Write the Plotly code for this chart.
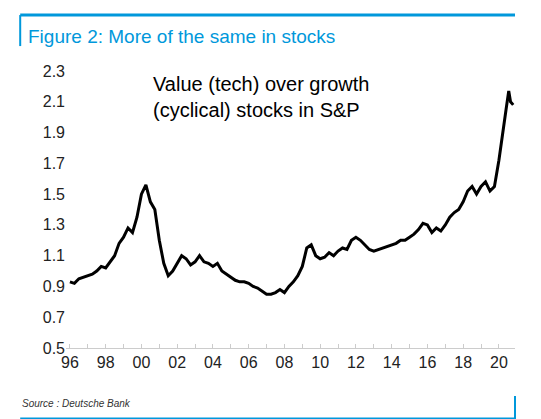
import plotly.graph_objects as go

years = [1996 + i*0.25 for i in range(96)] + [2020.0, 2020.25, 2020.4, 2020.55, 2020.65, 2020.8]
values = [0.93, 0.92, 0.95, 0.96,
          0.97, 0.98, 1.00, 1.03,
          1.02, 1.06, 1.10, 1.18,
          1.22, 1.28, 1.25, 1.35,
          1.50, 1.56, 1.45, 1.40,
          1.20, 1.05, 0.97, 1.00,
          1.05, 1.10, 1.08, 1.04,
          1.06, 1.10, 1.06, 1.05,
          1.03, 1.05, 1.00, 0.98,
          0.96, 0.94, 0.93, 0.93,
          0.92, 0.90, 0.89, 0.87,
          0.85, 0.85, 0.86, 0.88,
          0.86, 0.90, 0.93, 0.97,
          1.03, 1.15, 1.17, 1.10,
          1.08, 1.09, 1.12, 1.10,
          1.13, 1.15, 1.14, 1.20,
          1.22, 1.20, 1.17, 1.14,
          1.13, 1.14, 1.15, 1.16,
          1.17, 1.18, 1.20, 1.20,
          1.22, 1.24, 1.27, 1.31,
          1.30, 1.25, 1.28, 1.26,
          1.30, 1.35, 1.38, 1.40,
          1.45, 1.52, 1.55, 1.50,
          1.55, 1.58, 1.52, 1.55,
          1.72, 1.95, 2.05, 2.17, 2.10, 2.08]
xticks = list(range(1996, 2021, 2))
xlabels = [f"{y % 100:02d}" for y in xticks]
yticks = [0.5, 0.7, 0.9, 1.1, 1.3, 1.5, 1.7, 1.9, 2.1, 2.3]

blue = "#0098DB"
fig = go.Figure(go.Scatter(x=years, y=values, mode="lines",
                           line=dict(color="black", width=3)))
fig.update_layout(
    width=541, height=419, plot_bgcolor="white", paper_bgcolor="white",
    margin=dict(l=58, r=34, t=63, b=79), showlegend=False,
    font=dict(family="Liberation Sans, Arial", color="#222"),
    xaxis=dict(range=[1995.78, 2020.9], tickvals=xticks, ticktext=xlabels,
               showgrid=False, showline=True, linecolor="#ccc", ticks="inside",
               tickcolor="#ccc", ticklen=4, tickfont=dict(size=16),
               minor=dict(dtick=1, tick0=1996, ticks="inside", ticklen=4, tickcolor="#ccc")),
    yaxis=dict(range=[0.5, 2.3], tickvals=yticks, ticktext=[f"{v:.1f}" for v in yticks],
               showgrid=False, zeroline=False, tickfont=dict(size=16), ticks=""),
    shapes=[
        dict(type="line", xref="paper", yref="paper", x0=-0.102, x1=1.0, y0=1.202, y1=1.202,
             line=dict(color=blue, width=3)),
        dict(type="line", xref="paper", yref="paper", x0=-0.102, x1=-0.102, y0=1.202, y1=1.09,
             line=dict(color=blue, width=2)),
        dict(type="line", xref="paper", yref="paper", x0=-0.102, x1=1.0, y0=-0.256, y1=-0.256,
             line=dict(color=blue, width=3)),
        dict(type="line", xref="paper", yref="paper", x0=1.0, x1=1.0, y0=-0.256, y1=-0.173,
             line=dict(color=blue, width=2)),
    ],
    annotations=[
        dict(text="Figure 2: More of the same in stocks", xref="paper", yref="paper",
             x=-0.09, y=1.126, xanchor="left", yanchor="middle", showarrow=False,
             font=dict(size=19, color=blue)),
        dict(text="Value (tech) over growth<br>(cyclical) stocks in S&P", xref="paper", yref="paper",
             x=0.19, y=1.0, xanchor="left", yanchor="top", showarrow=False, align="left",
             font=dict(size=20, color="black")),
        dict(text="<i>Source : Deutsche Bank</i>", xref="paper", yref="paper",
             x=-0.102, y=-0.202, xanchor="left", yanchor="middle", showarrow=False,
             font=dict(size=10, color="#333")),
    ],
)
fig.write_html("out.html")
